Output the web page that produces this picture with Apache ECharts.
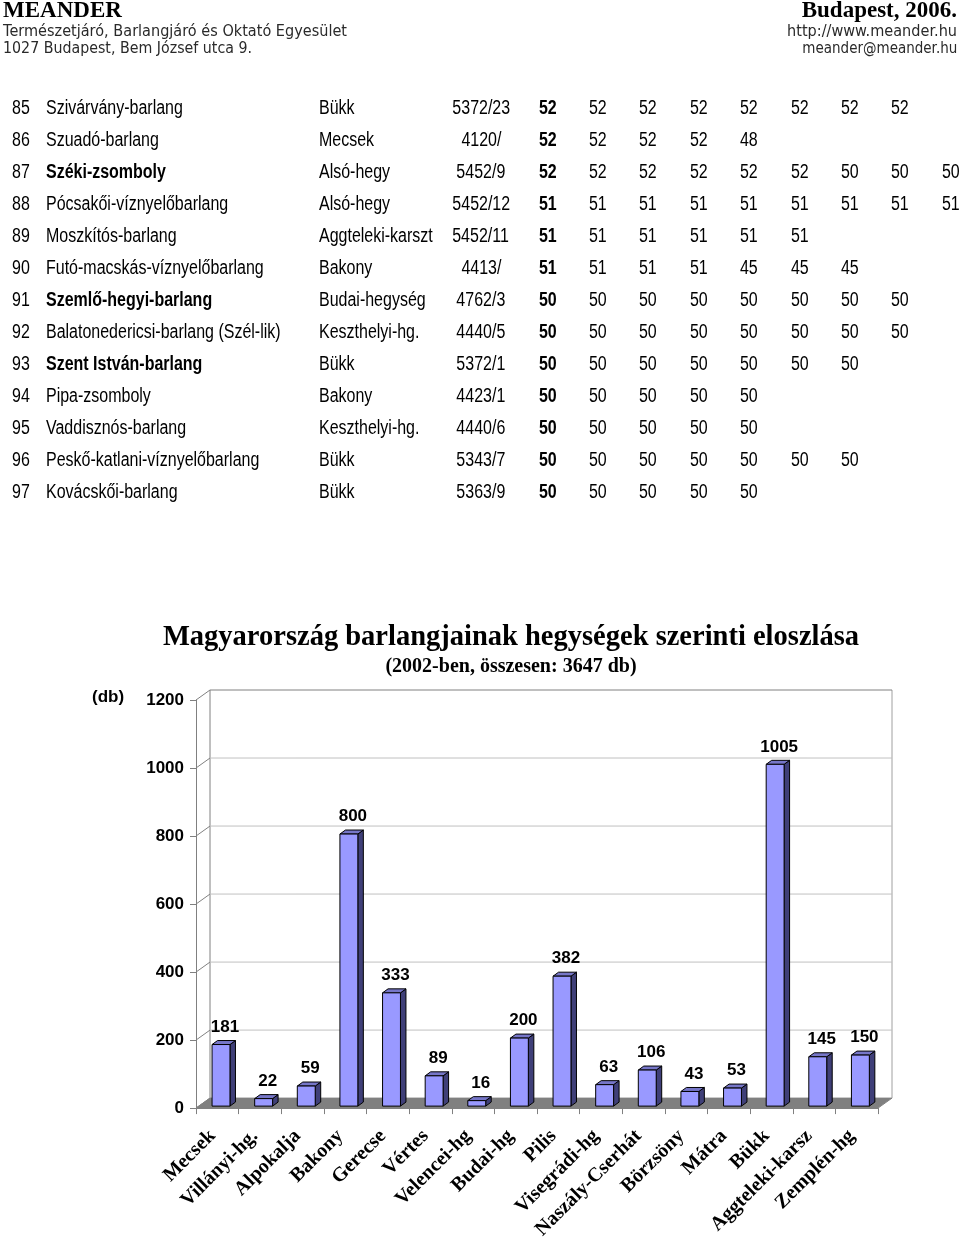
<!DOCTYPE html>
<html>
<head>
<meta charset="utf-8">
<script src="https://cdn.jsdelivr.net/npm/echarts@6/dist/echarts.min.js"></script>
<style>
html,body{margin:0;padding:0;background:#fff;}
#page{position:relative;width:960px;height:1242px;overflow:hidden;}
#chart{position:absolute;left:0;top:0;width:960px;height:1242px;}
.t{position:absolute;white-space:nowrap;z-index:2;}
</style>
</head>
<body>
<div id="page">
<div id="chart"></div>
</div>
<script>
// ---------- data ----------
const headerLeft = ['MEANDER', 'Természetjáró, Barlangjáró és Oktató Egyesület', '1027 Budapest, Bem József utca 9.'];
const headerRight = ['Budapest, 2006.', 'http://www.meander.hu', 'meander@meander.hu'];

const rowNums = [85, 86, 87, 88, 89, 90, 91, 92, 93, 94, 95, 96, 97];
const caveNames = ['Szivárvány-barlang', 'Szuadó-barlang', 'Széki-zsomboly', 'Pócsakői-víznyelőbarlang',
  'Moszkítós-barlang', 'Futó-macskás-víznyelőbarlang', 'Szemlő-hegyi-barlang',
  'Balatonedericsi-barlang (Szél-lik)', 'Szent István-barlang', 'Pipa-zsomboly',
  'Vaddisznós-barlang', 'Peskő-katlani-víznyelőbarlang', 'Kovácskői-barlang'];
const boldRows = [87, 91, 93];
const regions = ['Bükk', 'Mecsek', 'Alsó-hegy', 'Alsó-hegy', 'Aggteleki-karszt', 'Bakony', 'Budai-hegység',
  'Keszthelyi-hg.', 'Bükk', 'Bakony', 'Keszthelyi-hg.', 'Bükk', 'Bükk'];
const codes = ['5372/23', '4120/', '5452/9', '5452/12', '5452/11', '4413/', '4762/3', '4440/5', '5372/1',
  '4423/1', '4440/6', '5343/7', '5363/9'];
const rowValues = [
  [52, 52, 52, 52, 52, 52, 52, 52],
  [52, 52, 52, 52, 48],
  [52, 52, 52, 52, 52, 52, 50, 50, 50],
  [51, 51, 51, 51, 51, 51, 51, 51, 51],
  [51, 51, 51, 51, 51, 51],
  [51, 51, 51, 51, 45, 45, 45],
  [50, 50, 50, 50, 50, 50, 50, 50],
  [50, 50, 50, 50, 50, 50, 50, 50],
  [50, 50, 50, 50, 50, 50, 50],
  [50, 50, 50, 50, 50],
  [50, 50, 50, 50, 50],
  [50, 50, 50, 50, 50, 50, 50],
  [50, 50, 50, 50, 50]
];

const chartTitle = 'Magyarország barlangjainak hegységek szerinti eloszlása';
const chartSubtitle = '(2002-ben, összesen: 3647 db)';
const yUnit = '(db)';
const categories = ['Mecsek', 'Villányi-hg.', 'Alpokalja', 'Bakony', 'Gerecse', 'Vértes', 'Velencei-hg',
  'Budai-hg', 'Pilis', 'Visegrádi-hg', 'Naszály-Cserhát', 'Börzsöny', 'Mátra', 'Bükk',
  'Aggteleki-karsz', 'Zemplén-hg'];
const counts = [181, 22, 59, 800, 333, 89, 16, 200, 382, 63, 106, 43, 53, 1005, 145, 150];
const yTicks = [0, 200, 400, 600, 800, 1000, 1200];

// ---------- HTML text (header + table) ----------
const page = document.getElementById('page');
function addText(txt, opt) {
  const d = document.createElement('div');
  d.className = 't';
  d.textContent = txt;
  const H = opt.h || 24;
  d.style.top = (opt.cy - H / 2) + 'px';
  d.style.height = H + 'px';
  d.style.lineHeight = H + 'px';
  d.style.font = opt.font;
  d.style.color = opt.color || '#000';
  page.appendChild(d);
  const w = d.getBoundingClientRect().width;
  let sx = opt.sx || 1;
  if (opt.fit) sx = opt.fit / w;
  let left;
  if (opt.align === 'right') left = opt.x - w;
  else if (opt.align === 'center') left = opt.x - w / 2;
  else left = opt.x;
  d.style.left = left + 'px';
  const origin = opt.align === 'right' ? 'right' : (opt.align === 'center' ? 'center' : 'left');
  d.style.transformOrigin = origin + ' center';
  d.style.transform = 'scaleX(' + sx + ')';
  return d;
}
const serifB = 'bold 23px "Liberation Serif", "Times New Roman", serif';
const hand = '15px "DejaVu Sans", sans-serif';
addText(headerLeft[0], {x: 3, cy: 9.5, font: serifB, h: 26});
addText(headerRight[0], {x: 957, cy: 9.5, font: serifB, h: 26, align: 'right'});
addText(headerLeft[1], {x: 3, cy: 31, font: hand, color: '#2a2a2a', fit: 344, h: 18});
addText(headerLeft[2], {x: 3, cy: 48, font: hand, color: '#2a2a2a', fit: 249, h: 18});
addText(headerRight[1], {x: 957, cy: 31, font: hand, color: '#2a2a2a', fit: 170, h: 18, align: 'right'});
addText(headerRight[2], {x: 957, cy: 48, font: hand, color: '#2a2a2a', fit: 155, h: 18, align: 'right'});

const narrow = '19.5px "Liberation Sans", Arial, sans-serif';
const narrowB = 'bold 19.5px "Liberation Sans", Arial, sans-serif';
const SX = 0.82;
rowNums.forEach((n, i) => {
  const cy = 107.5 + i * 32;
  addText(String(n), {x: 12, cy, font: narrow, sx: SX});
  addText(caveNames[i], {x: 46, cy, font: boldRows.includes(n) ? narrowB : narrow, sx: SX});
  addText(regions[i], {x: 319, cy, font: narrow, sx: SX});
  addText(codes[i], {x: 481, cy, font: narrow, sx: SX, align: 'center'});
  rowValues[i].forEach((v, j) => {
    addText(String(v), {x: 547.5 + j * 50.4, cy, font: j === 0 ? narrowB : narrow, sx: SX, align: 'center'});
  });
});

// ---------- chart ----------
const DX = 14, DY = -10;       // wall depth offset
const BDX = 5.5, BDY = -4;     // bar depth
const BOX = 3.7, BOY = -2;     // bar plane offset
const chart = echarts.init(document.getElementById('chart'), null, {renderer: 'canvas'});

const wallData = yTicks.map(v => [0, v]);
const barData = counts.map((v, i) => [i, v]);

const option = {
  animation: false,
  graphic: [
    {type: 'text', x: 511, y: 638, style: {text: chartTitle, textAlign: 'center', textVerticalAlign: 'middle',
      font: 'bold 28.5px "Liberation Serif", "Times New Roman", serif', fill: '#000'}},
    {type: 'text', x: 511, y: 667, style: {text: chartSubtitle, textAlign: 'center', textVerticalAlign: 'middle',
      font: 'bold 20px "Liberation Serif", "Times New Roman", serif', fill: '#000'}},
    {type: 'text', x: 92, y: 697, style: {text: yUnit, textAlign: 'left', textVerticalAlign: 'middle',
      font: 'bold 17px "Liberation Sans", Arial, sans-serif', fill: '#000'}}
  ],
  grid: {left: 196, right: 82, top: 700, bottom: 133, containLabel: false},
  xAxis: {
    type: 'category', data: categories,
    axisLine: {show: true, lineStyle: {color: '#808080', width: 1}},
    axisTick: {show: true, length: 6, lineStyle: {color: '#808080'}},
    axisLabel: {interval: 0, rotate: 45, margin: 20, padding: [0, 7, 0, 0], color: '#000', fontWeight: 'bold', fontSize: 20,
      fontFamily: '"Liberation Serif", "Times New Roman", serif'},
    splitLine: {show: false}
  },
  yAxis: {
    type: 'value', min: 0, max: 1200, interval: 200,
    axisLine: {show: true, lineStyle: {color: '#808080', width: 1}},
    axisTick: {show: true, length: 6, lineStyle: {color: '#808080'}},
    axisLabel: {margin: 12, color: '#000', fontWeight: 'bold', fontSize: 17,
      fontFamily: '"Liberation Sans", Arial, sans-serif', formatter: v => String(v)},
    splitLine: {show: false}
  },
  series: [
    {
      type: 'custom', z: 1, silent: true,
      data: wallData,
      encode: {x: 0, y: 1},
      renderItem: function (params, api) {
        const v = api.value(1);
        const bw = api.size([1, 0])[0];
        const p = api.coord([0, v]);
        const q = api.coord([categories.length - 1, v]);
        const lx = p[0] - bw / 2, rx = q[0] + bw / 2, y = p[1];
        const children = [];
        const isTop = v === yTicks[yTicks.length - 1];
        if (v === 0) {
          const top = api.coord([0, yTicks[yTicks.length - 1]])[1];
          children.push({type: 'polygon', shape: {points: [[lx, y], [rx, y], [rx + DX, y + DY], [lx + DX, y + DY]]},
            style: {fill: '#808080', stroke: '#808080', lineWidth: 1}});
          children.push({type: 'line', shape: {x1: lx + DX, y1: y + DY, x2: lx + DX, y2: top + DY},
            style: {stroke: '#808080', lineWidth: 1}});
          children.push({type: 'line', shape: {x1: rx + DX, y1: y + DY, x2: rx + DX, y2: top + DY},
            style: {stroke: '#a0a0a0', lineWidth: 1}});
        } else {
          children.push({type: 'line', shape: {x1: lx + DX, y1: y + DY, x2: rx + DX, y2: y + DY},
            style: {stroke: isTop ? '#808080' : '#c0c0c0', lineWidth: 1}});
        }
        children.push({type: 'line', shape: {x1: lx, y1: y, x2: lx + DX, y2: y + DY},
          style: {stroke: '#808080', lineWidth: 1}});
        return {type: 'group', children};
      }
    },
    {
      type: 'custom', z: 3, silent: true,
      data: barData,
      encode: {x: 0, y: 1},
      renderItem: function (params, api) {
        const i = api.value(0), v = api.value(1);
        const bw = api.size([1, 0])[0];
        const c = api.coord([i, 0]);
        const t = api.coord([i, v]);
        const w = bw * 0.42;
        const x0 = c[0] - w / 2 + BOX, x1 = x0 + w;
        const yb = c[1] + BOY, yt = t[1] + BOY;
        const stroke = {stroke: '#000', lineWidth: 1};
        return {
          type: 'group',
          children: [
            {type: 'polygon', shape: {points: [[x1, yt], [x1 + BDX, yt + BDY], [x1 + BDX, yb + BDY], [x1, yb]]},
              style: Object.assign({fill: '#3f3f78'}, stroke)},
            {type: 'polygon', shape: {points: [[x0, yt], [x1, yt], [x1 + BDX, yt + BDY], [x0 + BDX, yt + BDY]]},
              style: Object.assign({fill: '#7676c8'}, stroke)},
            {type: 'rect', shape: {x: x0, y: yt, width: w, height: yb - yt},
              style: Object.assign({fill: '#9999ff'}, stroke)},
            {type: 'text', x: x0 + w / 2 + 4, y: yt - 9,
              style: {text: String(v), textAlign: 'center', textVerticalAlign: 'bottom',
                font: 'bold 17px "Liberation Sans", Arial, sans-serif', fill: '#000'}}
          ]
        };
      }
    }
  ]
};
chart.setOption(option);
</script>
</body>
</html>
